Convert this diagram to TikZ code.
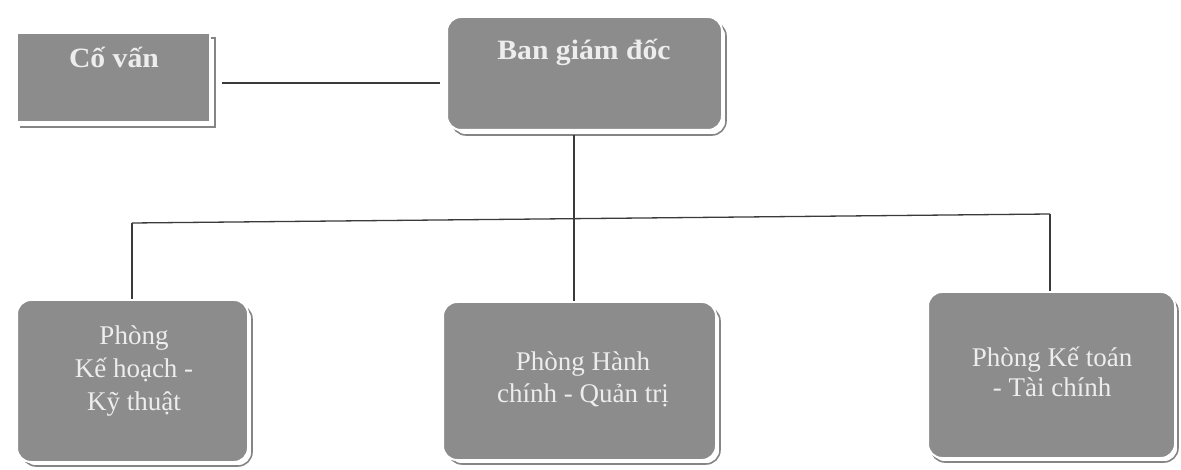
\documentclass[tikz,border=0pt]{standalone}
\usepackage{fontspec}
\setmainfont{Liberation Serif}
\newfontfamily\widebold[FakeStretch=1.06]{Liberation Serif Bold}
\definecolor{boxgray}{HTML}{8C8C8C}
\definecolor{shadowgray}{HTML}{858585}
\definecolor{textlight}{HTML}{EDEDED}
\definecolor{linegray}{HTML}{3A3A3A}
\begin{document}
\begin{tikzpicture}[x=1pt,y=-1pt,
  unitbox/.style={fill=boxgray, draw=white, line width=2pt, inner sep=0pt},
  roundbox/.style={unitbox, rounded corners=14pt},
  boxshadow/.style={draw=shadowgray, line width=1.6pt},
  headtext/.style={text=textlight, font=\widebold\fontsize{28}{32}\selectfont},
  bodytext/.style={text=textlight, font=\fontsize{27}{32}\selectfont, align=center},
  link/.style={draw=linegray, line width=1.3pt}]
\useasboundingbox (0,0) rectangle (1181,470);

% offset outlines behind the boxes
\draw[boxshadow] (20,38) -- (215,38) -- (215,127) -- (20,127);
\draw[boxshadow, rounded corners=14pt] (452,22) rectangle (726,135);
\draw[boxshadow, rounded corners=14pt] (22,305) rectangle (252,466);
\draw[boxshadow, rounded corners=14pt] (448,307) rectangle (720,464);
\draw[boxshadow, rounded corners=14pt] (931,297) rectangle (1178,462);

% boxes
\node[unitbox, minimum width=193pt, minimum height=89pt] (cv) at (113.5,77.5) {};
\node[headtext] (cvt) at (114,57) {Cố vấn};

\node[roundbox, minimum width=275pt, minimum height=113pt] (bgd) at (584.5,73.5) {};
\node[headtext] (bgdt) at (584,52) {Ban giám đốc};

\node[roundbox, minimum width=231pt, minimum height=162pt] (kh) at (132.5,381) {};
\node[bodytext, font=\fontsize{27}{33}\selectfont] (kht) at (134,371) {Phòng\\Kế hoạch -\\Kỹ thuật};

\node[roundbox, minimum width=273pt, minimum height=158pt] (hc) at (579.5,381) {};
\node[bodytext] (hct) at (583,379) {Phòng Hành\\chính - Quản trị};

\node[roundbox, minimum width=247pt, minimum height=166pt] (kt) at (1051.5,375) {};
\node[bodytext, font=\fontsize{27}{30}\selectfont] (ktt) at (1052,372) {Phòng Kế toán\\- Tài chính};

% connectors
\coordinate (busL) at (132,223);
\coordinate (busM) at (574,219);
\coordinate (busR) at (1050,214);
\coordinate (cvR) at (222,83);
\coordinate (bgL) at (440,83);
\coordinate (bgB) at (574,135);

\draw[link] (cvR) -- (bgL);
\draw[link] (bgB) -- (busM);
\draw[link] (busL) -- (busR);
\draw[link] (busL) -- (busL |- kh.north);
\draw[link] (busM) -- (busM |- hc.north);
\draw[link] (busR) -- (busR |- kt.north);
\end{tikzpicture}
\end{document}
